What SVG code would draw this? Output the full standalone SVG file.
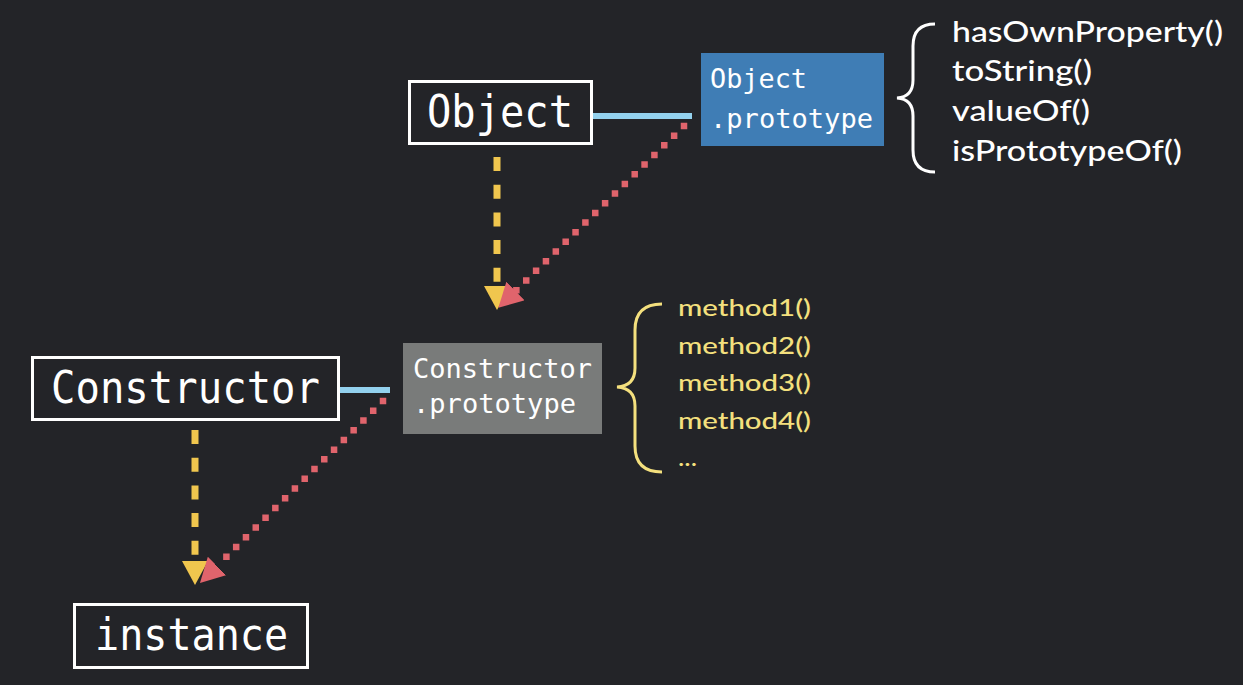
<svg xmlns="http://www.w3.org/2000/svg" width="1243" height="685" viewBox="0 0 1243 685">
<defs>
<style>
.box{fill:none;stroke:#ffffff;stroke-width:3}
.mono{font-family:"DejaVu Sans Mono","Liberation Mono",monospace;fill:#ffffff}
.big{font-size:44px}
.small{font-size:27px}
.sans{font-family:Lato,"Open Sans","Liberation Sans",sans-serif;font-weight:500}
.wlist{font-size:29px;fill:#ffffff}
.ylist{font-size:23px;fill:#f4e07e}
.link{stroke:#93d1ee;stroke-width:6}
.inherit{fill:none;stroke:#f0c64e;stroke-width:7;stroke-dasharray:14 13.7}
.proto{fill:none;stroke:#e0646c;stroke-width:6.5;stroke-dasharray:0 13.8;stroke-linecap:square}
</style>
<marker id="ya" markerUnits="userSpaceOnUse" markerWidth="24" markerHeight="26" refX="0" refY="13" orient="auto" viewBox="0 0 24 26">
<path d="M0,0 L24,13 L0,26 z" fill="#f0c64e"/>
</marker>
<marker id="ra" markerUnits="userSpaceOnUse" markerWidth="24" markerHeight="26" refX="0" refY="13" orient="auto" viewBox="0 0 24 26">
<path d="M0,0 L24,13 L0,26 z" fill="#e0646c"/>
</marker>
</defs>
<rect width="1243" height="685" fill="#232428"/>

<g id="connectors">
<line class="link" x1="592" y1="116" x2="692" y2="116"/>
<line class="link" x1="339" y1="390" x2="390" y2="390"/>
<path class="inherit" d="M497,157 L497,286" marker-end="url(#ya)"/>
<path class="inherit" d="M195,430 L195,561" marker-end="url(#ya)"/>
<path class="proto" d="M684,126 L515.5,291" marker-end="url(#ra)"/>
<path class="proto" d="M383,401 L217,566" marker-end="url(#ra)"/>
</g>

<g id="object">
<rect class="box" x="409.5" y="81.5" width="182" height="62"/>
<text class="mono big" x="427" y="127" textLength="146" lengthAdjust="spacingAndGlyphs">Object</text>
</g>

<g id="object-prototype">
<rect x="701" y="53" width="183" height="93" fill="#3f7db5"/>
<text class="mono small" x="710" y="88" textLength="97" lengthAdjust="spacingAndGlyphs">Object</text>
<text class="mono small" x="710" y="128" textLength="163" lengthAdjust="spacingAndGlyphs">.prototype</text>
</g>

<g id="object-methods">
<path d="M935,24 Q913,24 913,46 L913,80 Q913,97 897,98 Q913,99 913,116 L913,150 Q913,172 935,172" fill="none" stroke="#ffffff" stroke-width="3"/>
<text class="sans wlist" x="952" y="42" textLength="271" lengthAdjust="spacingAndGlyphs">hasOwnProperty()</text>
<text class="sans wlist" x="952" y="81" textLength="140" lengthAdjust="spacingAndGlyphs">toString()</text>
<text class="sans wlist" x="952" y="121" textLength="138" lengthAdjust="spacingAndGlyphs">valueOf()</text>
<text class="sans wlist" x="952" y="161" textLength="230" lengthAdjust="spacingAndGlyphs">isPrototypeOf()</text>
</g>

<g id="constructor">
<rect class="box" x="32.5" y="357.5" width="306" height="62"/>
<text class="mono big" x="51" y="403" textLength="269" lengthAdjust="spacingAndGlyphs">Constructor</text>
</g>

<g id="constructor-prototype">
<rect x="403" y="343" width="199" height="91" fill="#797b7a"/>
<text class="mono small" x="413" y="378" textLength="179" lengthAdjust="spacingAndGlyphs">Constructor</text>
<text class="mono small" x="413" y="413" textLength="163" lengthAdjust="spacingAndGlyphs">.prototype</text>
</g>

<g id="constructor-methods">
<path d="M662,304 Q635,304 635,330 L635,368 Q635,386 617,387 Q635,388 635,406 L635,446 Q635,472 662,472" fill="none" stroke="#f4e07e" stroke-width="3"/>
<text class="sans ylist" x="678" y="316" textLength="133" lengthAdjust="spacingAndGlyphs">method1()</text>
<text class="sans ylist" x="678" y="353.5" textLength="133" lengthAdjust="spacingAndGlyphs">method2()</text>
<text class="sans ylist" x="678" y="391" textLength="133" lengthAdjust="spacingAndGlyphs">method3()</text>
<text class="sans ylist" x="678" y="428.5" textLength="133" lengthAdjust="spacingAndGlyphs">method4()</text>
<text class="sans ylist" x="678" y="466" textLength="19" lengthAdjust="spacingAndGlyphs">...</text>
</g>

<g id="instance">
<rect class="box" x="74.5" y="604.5" width="233" height="63"/>
<text class="mono big" x="95" y="650" textLength="193" lengthAdjust="spacingAndGlyphs">instance</text>
</g>
</svg>
